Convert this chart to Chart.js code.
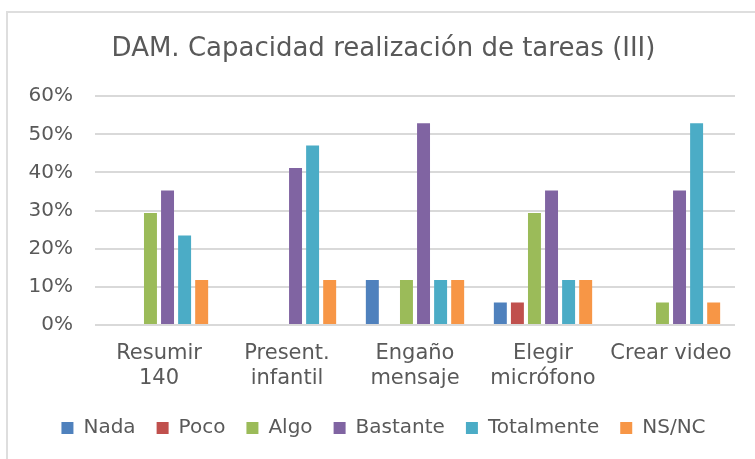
<!DOCTYPE html>
<html>
<head>
<meta charset="utf-8">
<script src="https://cdn.jsdelivr.net/npm/chart.js@4"></script>
<style>
  html, body { margin: 0; padding: 0; background: #fff; }
  #frame {
    position: absolute; left: 6px; top: 11px; width: 760px; height: 460px;
    border: 2px solid #dedede; box-sizing: border-box;
  }
  #wrap { position: absolute; left: 0; top: 0; width: 755px; height: 459px; }
</style>
</head>
<body>
<div id="frame"></div>
<div id="wrap"><canvas id="chart"></canvas></div>
<script>
// Categories and series (percent of answers)
const categories = [['Resumir', '140'], ['Present.', 'infantil'], ['Engaño', 'mensaje'], ['Elegir', 'micrófono'], 'Crear video'];
const nada = [0, 0, 11.8, 5.9, 0];
const poco = [0, 0, 0, 5.9, 0];
const algo = [29.4, 0, 11.8, 29.4, 5.9];
const bastante = [35.3, 41.2, 52.9, 35.3, 35.3];
const totalmente = [23.5, 47.1, 11.8, 11.8, 52.9];
const nsnc = [11.8, 11.8, 11.8, 11.8, 5.9];
const yTicks = [0, 10, 20, 30, 40, 50, 60];

const textColor = '#595959';
const gridColor = '#d9d9d9';

function series(label, data, color) {
    return {
        label: label,
        data: data,
        backgroundColor: color,
        borderWidth: 0,
        categoryPercentage: 0.8,
        barPercentage: 0.76
    };
}

const ctx = document.getElementById('chart').getContext('2d');
new Chart(ctx, {
    type: 'bar',
    data: {
        labels: categories,
        datasets: [
            series('Nada', nada, '#4f81bd'),
            series('Poco', poco, '#c0504d'),
            series('Algo', algo, '#9bbb59'),
            series('Bastante', bastante, '#8064a2'),
            series('Totalmente', totalmente, '#4bacc6'),
            series('NS/NC', nsnc, '#f79646')
        ]
    },
    options: {
        responsive: true,
        maintainAspectRatio: false,
        animation: false,
        layout: { padding: { left: 16, right: 4, top: 34, bottom: 11 } },
        plugins: {
            title: {
                display: true,
                text: 'DAM. Capacidad realización de tareas (III)',
                color: textColor,
                font: { family: 'DejaVu Sans', size: 26, weight: 'normal' },
                padding: { top: 0, bottom: 31 }
            },
            legend: {
                position: 'bottom',
                labels: {
                    color: textColor,
                    font: { family: 'DejaVu Sans', size: 20 },
                    boxWidth: 12,
                    boxHeight: 12,
                    padding: 21
                }
            },
            tooltip: { enabled: false }
        },
        scales: {
            x: {
                afterFit: function (scale) { scale.height = 72; },
                grid: { display: false, drawTicks: false },
                border: { display: false },
                ticks: {
                    color: textColor,
                    font: { family: 'DejaVu Sans', size: 21, lineHeight: 1.2 },
                    padding: 16,
                    maxRotation: 0
                }
            },
            y: {
                min: 0,
                max: 60,
                afterFit: function (scale) { scale.width = 79; },
                afterBuildTicks: function (scale) {
                    scale.ticks = yTicks.map(v => ({ value: v }));
                },
                grid: { color: gridColor, lineWidth: 2, drawTicks: false },
                border: { display: false },
                ticks: {
                    color: textColor,
                    font: { family: 'DejaVu Sans', size: 20 },
                    padding: 22,
                    callback: v => v + '%'
                }
            },
            // empty right-hand axis, only to keep the plot clear of the right edge
            yRight: {
                position: 'right',
                display: true,
                afterFit: function (scale) { scale.width = 16; },
                grid: { display: false, drawTicks: false },
                border: { display: false },
                ticks: { display: false }
            }
        }
    }
});
</script>
</body>
</html>
